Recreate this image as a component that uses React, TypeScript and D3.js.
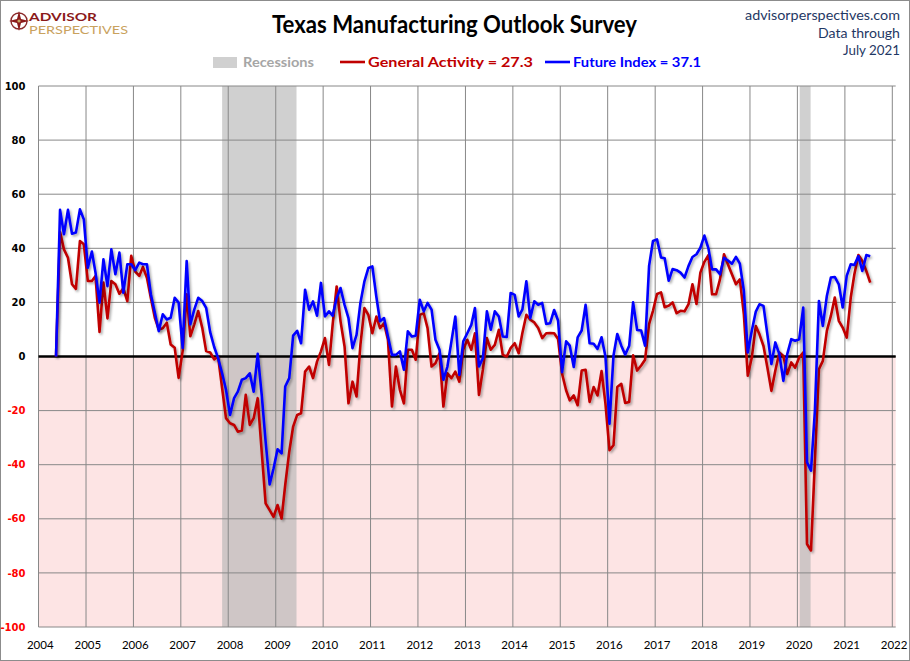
import React from "react";
import * as d3 from "d3";

// ---------- data (monthly, starting May 2004) ----------
const firstMonth = "2004-05";

const generalActivity: number[] = [
  // 2004 (May-Dec)
  0, 46, 39.6, 36.5, 26.7, 25, 42.7, 41.5,
  // 2005
  27.9, 27.9, 29.8, 9.1, 27.3, 14.1, 27.9, 26.7, 23.2, 25.2, 20.5, 37.2,
  // 2006
  31.4, 29.8, 33.1, 29.1, 21.7, 14.3, 10, 10.4, 12.5, 4.4, 3.2, -7.9,
  // 2007
  2, 23, 7.5, 11.9, 16.8, 10.6, 2, 1.5, -1.1, 0, -11.7, -22.8,
  // 2008
  -24.7, -25.3, -27.8, -27.4, -14.2, -25.3, -22.8, -15.4, -35.2, -54.3, -56.8, -59.3,
  // 2009
  -54.9, -59.9, -47.5, -35.2, -25.9, -21.6, -21, -5.6, -3.7, -8, -1.9, 1.9,
  // 2010
  6.8, -3.1, 11.7, 25.9, 13, 3.7, -17.3, -9.3, -14.8, 4.3, 17.9, 15.4,
  // 2011
  8.6, 14.8, 10.5, 12.3, 6.2, -18.5, -3.7, -12.3, -17.3, 2.5, 2.5, -1.2,
  // 2012
  15.4, 16, 10.5, -3.7, -2.5, 1.2, -18.5, -6.2, -8, -5.6, -9.3, 2.5,
  // 2013
  6.2, 2.5, 8.6, -14.2, -4.9, 6.8, 2.5, 4.3, 9.9, 0.6, 0, 3.1,
  // 2014
  4.9, 1.2, 8.6, 15.4, 13.6, 12.6, 10.5, 6.8, 8.6, 8.7, 8.6, 6.5,
  // 2015
  -6.4, -12.5, -16.2, -14.4, -18, -5.2, -4.9, -16.8, -11.3, -14.4, -5.4, -17.4,
  // 2016
  -34.6, -32.8, -11.3, -10.1, -17.2, -16.8, 0.4, -5.2, -3.3, -1.2, 12, 16.9,
  // 2017
  23.1, 23.7, 18.2, 18.8, 20, 16, 16.9, 16.7, 19.4, 26.7, 19.4, 31,
  // 2018
  35, 37.5, 23, 23, 28.5, 37.8, 34.1, 30.4, 26.7, 28.5, 15.6, -7.1,
  // 2019
  -0.4, 11.3, 8.2, 3.9, -4.1, -12.7, -5.3, 1.5, 0.2, -6.5, -2.2, -4.1,
  // 2020
  -0.4, 1.5, -69.3, -71.7, -38.5, -4.7, -1.6, 9.5, 15, 21.8, 13.2, 10.7,
  // 2021 (Jan-Jul)
  7, 21.8, 30.4, 37.5, 35.3, 31.6, 27.3,
];

const futureIndex: number[] = [
  // 2004 (May-Dec)
  0, 54.2, 45.2, 54.2, 45.4, 45.8, 54.4, 50.7,
  // 2005
  32.8, 38.8, 31, 19.9, 35.9, 26, 39.6, 30.4, 38.4, 23.6, 34.1, 34.1,
  // 2006
  31.9, 34.7, 34.1, 34.1, 23, 16.2, 9.4, 15.6, 13.7, 14.3, 21.7, 19.9,
  // 2007
  3.2, 35.3, 11.9, 17.4, 21.7, 20.5, 18, 9, 3.5, -0.6, -6.2, -12.3,
  // 2008
  -21.6, -15.4, -13, -8.6, -8, -6.2, -13, 1, -14.2, -31.5, -47.3, -41.4,
  // 2009
  -34.3, -35.8, -11.1, -8, 7.7, 9.5, 4.9, 24.7, 17.3, 20.4, 15.1, 27.2,
  // 2010
  14.8, 16.7, 15.1, 21.6, 25.3, 19.1, 14.2, 3.1, 8, 19.8, 27.8, 32.7,
  // 2011
  33.3, 22, 13, 14.2, 7.4, 0.6, 0.6, 1.9, -4.9, 9.3, 7.4, 7.7,
  // 2012
  21, 16.7, 19.8, 17.3, 6.2, 2.5, -8.6, -3.7, 5.6, 14.8, -6.8, 5.6,
  // 2013
  8.6, 11.7, 17.9, -3.7, -0.6, 16.7, 9.9, 16.7, 14.8, 7.4, 7.2, 23.5,
  // 2014
  22.8, 14.8, 17.3, 27.8, 14.2, 20.4, 19.1, 19.8, 12, 12.3, 17.2, 13.3,
  // 2015
  -5.8, 5.6, 4, -3.9, 7.1, 9.6, 19.1, 4.9, 4.7, 2.8, 7.1, 0,
  // 2016
  -24.8, 0.4, 8.3, 4, 0.7, 4, 20, 9.8, 9.6, 4, 33.5, 42.7,
  // 2017
  43.3, 36.6, 36.3, 28, 32.3, 31.9, 31, 29.2, 33.5, 36.8, 37.8, 40.2,
  // 2018
  44.7, 40, 32.2, 32.2, 30.4, 36.5, 35.5, 34.3, 36.8, 34.3, 24.2, 1.5,
  // 2019
  9.5, 16.6, 19.3, 18.7, 8.2, -2.8, 5.2, 0.9, -9, 0.9, 6.4, 5.8,
  // 2020
  6.4, 18.1, -39.1, -42.2, -20, 20.5, 11.3, 22.4, 29.2, 29.4, 26.7, 18.1,
  // 2021 (Jan-Jul)
  29.8, 34.1, 33.8, 37.1, 31.6, 37.5, 37.1,
];

const recessionStarts = ["2007-11-15", "2020-01-19"];
const recessionEnds = ["2009-06-10", "2020-04-12"];

const yTicks = [100, 80, 60, 40, 20, 0, -20, -40, -60, -80, -100];
const xYears = d3.range(2004, 2023);

const titleText = "Texas Manufacturing Outlook Survey";
const siteText = "advisorperspectives.com";
const dataThrough = ["Data through", "July 2021"];
const legendRecession = "Recessions";
const legendGeneral = "General Activity = 27.3";
const legendFuture = "Future Index = 37.1";
const logoWords = ["ADVISOR", "PERSPECTIVES"];

// ---------- chart ----------
export default function App() {
  const W = 910;
  const H = 661;
  const left = 38.5;
  const right = 895.7;
  const top = 86;
  const bottom = 627;

  const parseDay = d3.timeParse("%Y-%m-%d");
  const parseMonth = d3.timeParse("%Y-%m");
  const start = parseMonth(firstMonth) as Date;
  const dateAt = (i: number) => {
    const d = d3.timeMonth.offset(start, i);
    return new Date(d.getFullYear(), d.getMonth(), 15);
  };

  const x = d3
    .scaleTime()
    .domain([new Date(2004, 0, 1), new Date(2022, 0, 1)])
    .range([38.5, 892.3]);
  const y = d3.scaleLinear().domain([-100, 100]).range([bottom, top]);

  const line = d3
    .line<number>()
    .x((_, i) => x(dateAt(i)))
    .y((v) => y(v));

  const red = "#C00000";
  const blue = "#0000FF";
  const grid = "#888888";
  const sans = "Lato, 'Open Sans', sans-serif";
  const navy = "#1F3864";

  return (
    <svg
      width={W}
      height={H}
      viewBox={`0 0 ${W} ${H}`}
      style={{ position: "absolute", left: 0, top: 0, background: "#fff" }}
    >
      <defs>
        <filter id="shadow" x="-5%" y="-5%" width="110%" height="115%">
          <feDropShadow dx="1.6" dy="1.8" stdDeviation="1.1" floodColor="#000" floodOpacity="0.33" />
        </filter>
      </defs>
      <rect x={0.5} y={0.5} width={W - 1} height={H - 1} fill="#fff" stroke="#8c8c8c" strokeWidth={1} />

      {/* negative region */}
      <rect x={left} y={y(0)} width={right - left} height={y(-100) - y(0)} fill="#FDE4E4" />

      {/* recessions */}
      {recessionStarts.map((s, i) => {
        const x0 = x(parseDay(s) as Date);
        const x1 = x(parseDay(recessionEnds[i]) as Date);
        return (
          <rect key={s} x={x0} y={top} width={x1 - x0} height={bottom - top} fill="#B4B4B4" fillOpacity={0.63} />
        );
      })}

      {/* grid */}
      {yTicks.map((t) => (
        <line key={"h" + t} x1={left} x2={right} y1={y(t)} y2={y(t)} stroke={grid} strokeWidth={1} />
      ))}
      {xYears.map((yr) => (
        <line
          key={"v" + yr}
          x1={x(new Date(yr, 0, 1))}
          x2={x(new Date(yr, 0, 1))}
          y1={top}
          y2={bottom}
          stroke={grid}
          strokeWidth={1}
        />
      ))}
      <line x1={left} x2={right} y1={y(0)} y2={y(0)} stroke="#000" strokeWidth={2.5} />

      {/* series */}
      <path d={line(generalActivity) || ""} fill="none" stroke={red} strokeWidth={2.6} strokeLinejoin="round" filter="url(#shadow)" />
      <path d={line(futureIndex) || ""} fill="none" stroke={blue} strokeWidth={2.6} strokeLinejoin="round" filter="url(#shadow)" />

      {/* y labels */}
      {yTicks.map((t) => (
        <text
          key={"yl" + t}
          x={25.5}
          y={y(t)}
          dy="0.36em"
          textAnchor="end"
          fontFamily="'DejaVu Sans', sans-serif"
          fontWeight="bold"
          fontSize={10}
          fill={t < 0 ? "#FF0000" : "#000"}
        >
          {t}
        </text>
      ))}

      {/* x labels */}
      {xYears.map((yr) => (
        <text
          key={"xl" + yr}
          x={x(new Date(yr, 0, 1)) + 1.8}
          y={649}
          textAnchor="middle"
          fontFamily={sans}
          fontSize={11.5}
          fill="#000"
        >
          {yr}
        </text>
      ))}

      {/* title */}
      <text x={272} y={33} fontFamily={sans} fontWeight="bold" fontSize={24} textLength={365} lengthAdjust="spacingAndGlyphs" fill="#000">
        {titleText}
      </text>

      {/* top right */}
      <text x={900} y={20} textAnchor="end" fontFamily={sans} fontSize={14} fill={navy} textLength={155} lengthAdjust="spacingAndGlyphs">
        {siteText}
      </text>
      <text x={900} y={38} textAnchor="end" fontFamily={sans} fontSize={14} fill={navy} textLength={82} lengthAdjust="spacingAndGlyphs">
        {dataThrough[0]}
      </text>
      <text x={900} y={55} textAnchor="end" fontFamily={sans} fontSize={14} fill={navy} textLength={57} lengthAdjust="spacingAndGlyphs">
        {dataThrough[1]}
      </text>

      {/* legend */}
      <rect x={213} y={57} width={24} height={11} fill="#D0D0D0" />
      <text x={243} y={67} fontFamily={sans} fontWeight="bold" fontSize={14} fill="#A6A6A6" textLength={71} lengthAdjust="spacingAndGlyphs">
        {legendRecession}
      </text>
      <line x1={340} x2={365} y1={62} y2={62} stroke={red} strokeWidth={2.6} />
      <text x={368} y={67} fontFamily={sans} fontWeight="bold" fontSize={14} fill={red} textLength={165} lengthAdjust="spacingAndGlyphs">
        {legendGeneral}
      </text>
      <line x1={545} x2={570} y1={62} y2={62} stroke={blue} strokeWidth={2.6} />
      <text x={573} y={67} fontFamily={sans} fontWeight="bold" fontSize={14} fill={blue} textLength={128} lengthAdjust="spacingAndGlyphs">
        {legendFuture}
      </text>

      {/* logo */}
      <g>
        <circle cx={19} cy={21} r={8} fill="none" stroke="#8B2A2A" strokeWidth={1.4} />
        <path d="M19 11 L21 19 L29 21 L21 23 L19 31 L17 23 L9 21 L17 19 Z" fill="#8B1A1A" />
        <circle cx={19} cy={21} r={1.6} fill="#C9A25E" />
        <text x={29} y={20.5} fontFamily={sans} fontWeight="bold" fontSize={12} fill="#8B1A1A" textLength={68} lengthAdjust="spacingAndGlyphs">
          {logoWords[0]}
        </text>
        <text x={29} y={33.5} fontFamily={sans} fontSize={10.5} fill="#C9A25E" textLength={99} lengthAdjust="spacingAndGlyphs">
          {logoWords[1]}
        </text>
      </g>
    </svg>
  );
}
